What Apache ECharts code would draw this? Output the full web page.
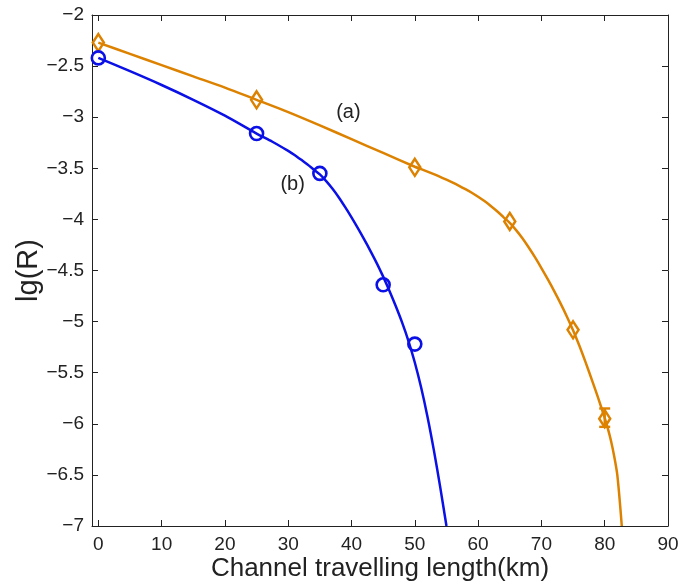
<!DOCTYPE html>
<html>
<head>
<meta charset="utf-8">
<script src="https://cdn.jsdelivr.net/npm/echarts@6/dist/echarts.min.js"></script>
<style>html,body{margin:0;padding:0;background:#fff;}#c{width:685px;height:588px;}</style>
</head>
<body>
<div id="c"></div>
<script>
// Data
const xTicks = [0, 10, 20, 30, 40, 50, 60, 70, 80, 90];
const yTicks = [-7, -6.5, -6, -5.5, -5, -4.5, -4, -3.5, -3, -2.5, -2];

// (a) measured points (diamonds)
const pointsAx = [0, 25, 50, 65, 75, 80];
const pointsAy = [-2.27, -2.83, -3.49, -4.02, -5.08, -5.95];
// error bar on the (a) point at 80 km: [x, low, high]
const errorA = [[80, -6.03, -5.85]];
// (a) fitted curve
const curveAx = [0, 5, 10, 15, 20, 25, 30, 35, 40, 45, 50, 51, 52, 53, 54, 55, 56, 57, 58, 59, 60, 61, 62, 63, 64, 65, 66, 67, 68, 69, 70, 71, 72, 73, 74, 75, 76, 77, 78, 79, 80, 80.5, 81, 81.5, 82, 82.7];
const curveAy = [-2.27, -2.38, -2.49, -2.60, -2.71, -2.83, -2.95, -3.08, -3.215, -3.35, -3.485, -3.508, -3.532, -3.557, -3.583, -3.611, -3.640, -3.671, -3.704, -3.739, -3.778, -3.821, -3.868, -3.920, -3.977, -4.035, -4.105, -4.185, -4.275, -4.372, -4.476, -4.585, -4.699, -4.819, -4.947, -5.085, -5.237, -5.402, -5.575, -5.753, -5.943, -6.048, -6.168, -6.318, -6.505, -7.0];

// (b) measured points (circles)
const pointsBx = [0, 25, 35, 45, 50];
const pointsBy = [-2.42, -3.16, -3.55, -4.64, -5.22];
// (b) fitted curve
const curveBx = [0, 5, 10, 15, 20, 25, 27.5, 30, 31, 32, 33, 34, 35, 36, 37, 38, 39, 40, 41, 42, 43, 44, 45, 46, 47, 48, 49, 50, 51, 52, 53, 54, 55];
const curveBy = [-2.42, -2.55, -2.685, -2.83, -2.985, -3.16, -3.24, -3.33, -3.37, -3.415, -3.46, -3.51, -3.56, -3.625, -3.70, -3.785, -3.88, -3.98, -4.085, -4.195, -4.31, -4.43, -4.56, -4.70, -4.85, -5.01, -5.19, -5.40, -5.645, -5.93, -6.255, -6.615, -7.0];

// annotation labels
const labels = [{ text: '(a)', x: 39.5, y: -2.95 }, { text: '(b)', x: 30.7, y: -3.66 }];

const orange = '#DC8200';
const blue = '#0A10E6';
const zip = (xs, ys) => xs.map((x, i) => [x, ys[i]]);

const font = '"Liberation Sans", Arial, Helvetica, sans-serif';
const fmt = v => String(v).replace('-', '\u2212');

const chart = echarts.init(document.getElementById('c'));
chart.setOption({
  animation: false,
  backgroundColor: '#fff',
  grid: { left: 92, right: 17, top: 15, bottom: 62, containLabel: false, outerBoundsMode: 'none' },
  xAxis: [{
    type: 'value', min: -1, max: 90,
    axisLine: { show: true, onZero: false, lineStyle: { color: '#222', width: 1 } },
    axisTick: { show: true, inside: true, length: 6, customValues: xTicks, lineStyle: { color: '#222' } },
    axisLabel: { customValues: xTicks, formatter: fmt, fontSize: 19, color: '#222', fontFamily: font, margin: 9 },
    splitLine: { show: false },
    name: 'Channel travelling length(km)', nameLocation: 'middle', nameGap: 30, nameMoveOverlap: false,
    nameTextStyle: { fontSize: 26, color: '#222', fontFamily: font }
  }, {
    type: 'value', position: 'top', min: -1, max: 90,
    axisLine: { show: true, onZero: false, lineStyle: { color: '#222', width: 1 } },
    axisTick: { show: true, inside: true, length: 6, customValues: xTicks, lineStyle: { color: '#222' } },
    axisLabel: { show: false }, splitLine: { show: false }
  }],
  yAxis: [{
    type: 'value', min: -7, max: -2, interval: 0.5,
    axisLine: { show: true, onZero: false, lineStyle: { color: '#222', width: 1 } },
    axisTick: { show: true, inside: true, length: 6, lineStyle: { color: '#222' } },
    axisLabel: { formatter: fmt, fontSize: 19, color: '#222', fontFamily: font, margin: 8 },
    splitLine: { show: false },
    name: 'lg(R)', nameLocation: 'middle', nameGap: 49, nameRotate: 90, nameMoveOverlap: false,
    nameTextStyle: { fontSize: 29, color: '#222', fontFamily: font }
  }, {
    type: 'value', position: 'right', min: -7, max: -2, interval: 0.5,
    axisLine: { show: true, onZero: false, lineStyle: { color: '#222', width: 1 } },
    axisTick: { show: true, inside: true, length: 6, lineStyle: { color: '#222' } },
    axisLabel: { show: false }, splitLine: { show: false }
  }],
  series: [
    {
      type: 'line', data: zip(curveAx, curveAy), smooth: 0.3,
      showSymbol: false, symbol: 'none', lineStyle: { color: orange, width: 2.5 }, z: 2, clip: true
    },
    {
      type: 'scatter', data: zip(pointsAx, pointsAy), symbol: 'diamond', symbolSize: [11, 17],
      itemStyle: { color: 'rgba(0,0,0,0)', borderColor: orange, borderWidth: 2.6, opacity: 1 }, z: 3
    },
    {
      type: 'custom', data: errorA, z: 3,
      renderItem: function (params, api) {
        const x = api.value(0);
        const lo = api.coord([x, api.value(1)]);
        const hi = api.coord([x, api.value(2)]);
        const w = 5.5;
        const st = { stroke: orange, lineWidth: 2.4 };
        return {
          type: 'group', children: [
            { type: 'line', shape: { x1: lo[0], y1: lo[1], x2: hi[0], y2: hi[1] }, style: st },
            { type: 'line', shape: { x1: lo[0] - w, y1: lo[1], x2: lo[0] + w, y2: lo[1] }, style: st },
            { type: 'line', shape: { x1: hi[0] - w, y1: hi[1], x2: hi[0] + w, y2: hi[1] }, style: st }
          ]
        };
      }
    },
    {
      type: 'line', data: zip(curveBx, curveBy), smooth: 0.3,
      showSymbol: false, symbol: 'none', lineStyle: { color: blue, width: 2.5 }, z: 2, clip: true
    },
    {
      type: 'scatter', data: zip(pointsBx, pointsBy), symbol: 'circle', symbolSize: 13,
      itemStyle: { color: 'rgba(0,0,0,0)', borderColor: blue, borderWidth: 2.6, opacity: 1 }, z: 3
    },
    {
      type: 'scatter', symbolSize: 0, z: 4,
      itemStyle: { opacity: 1 },
      data: labels.map(l => ({ value: [l.x, l.y], name: l.text })),
      label: { show: true, position: 'inside', formatter: p => p.name, fontSize: 20, color: '#222', fontFamily: font }
    }
  ]
});
</script>
</body>
</html>
